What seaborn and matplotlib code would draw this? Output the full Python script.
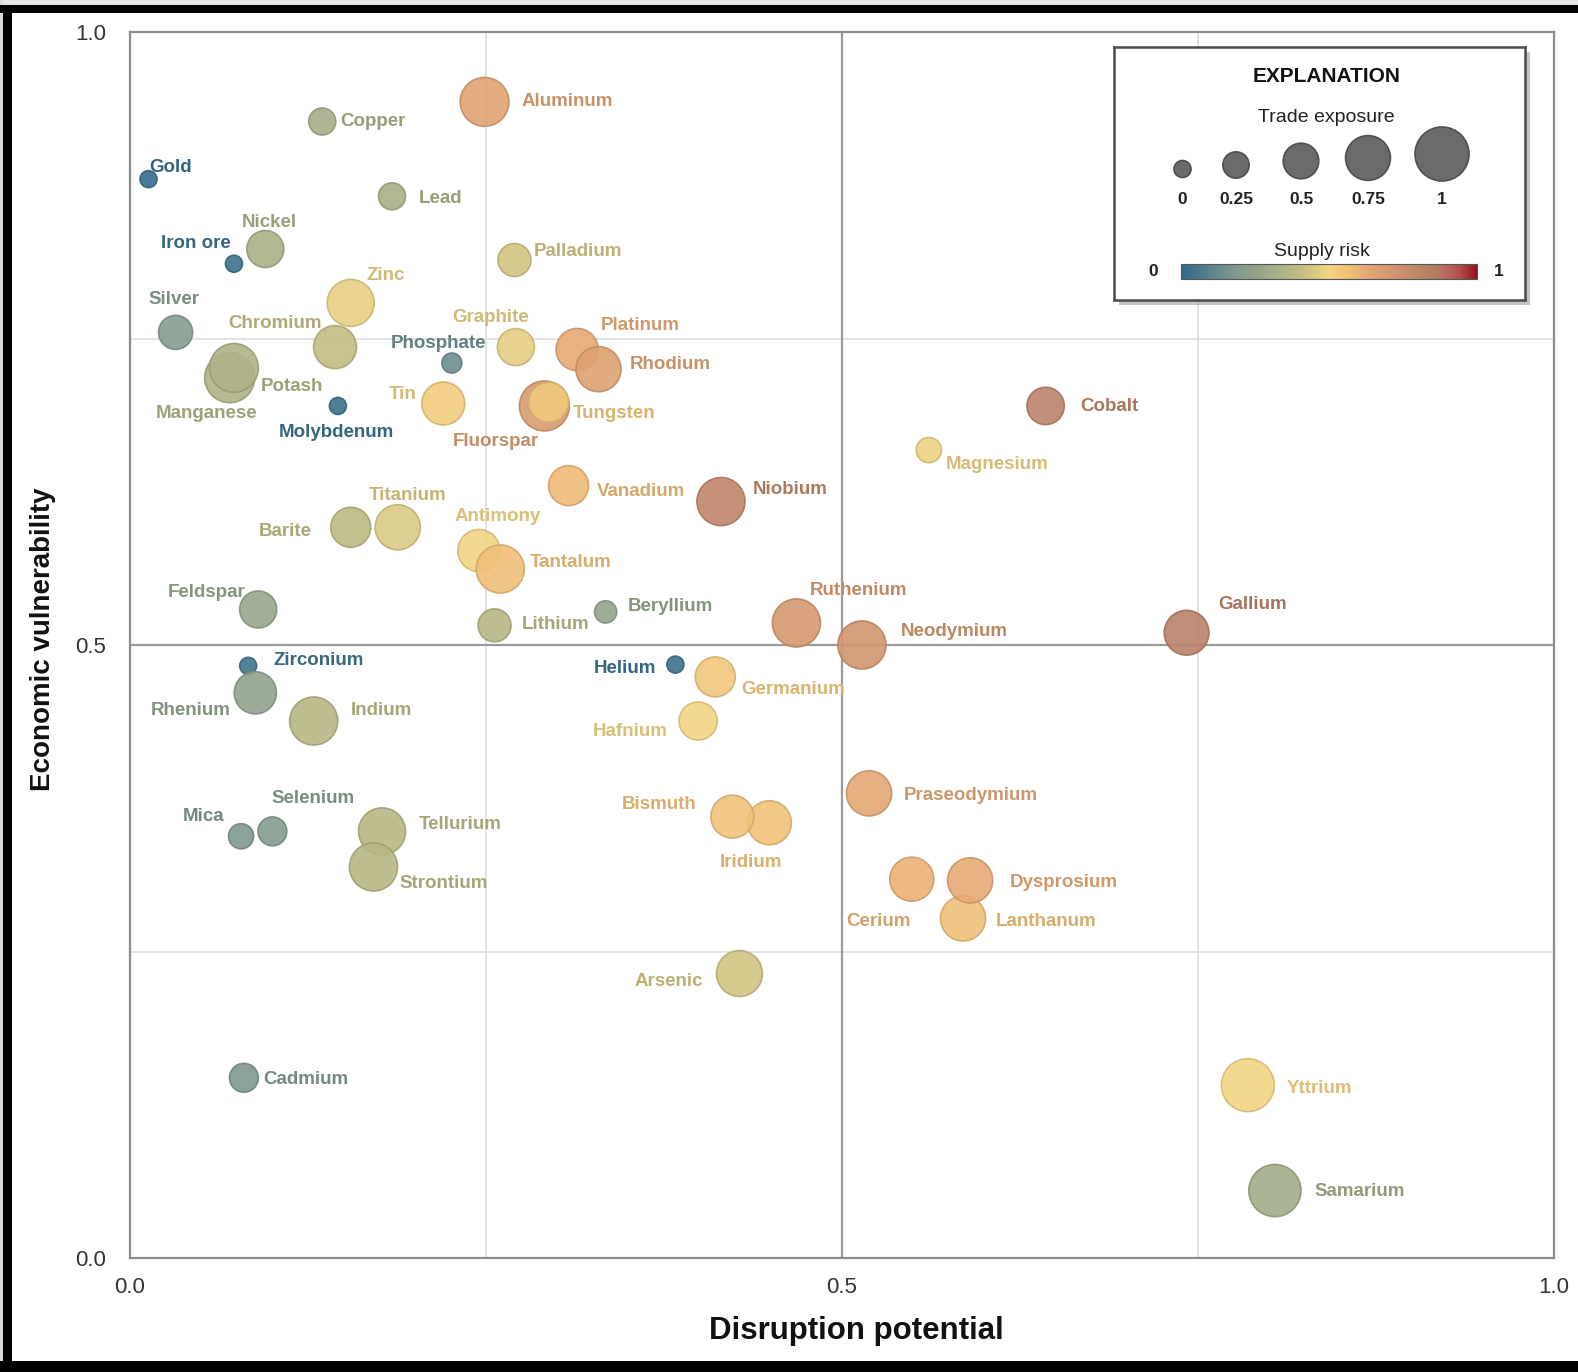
import numpy as np
import pandas as pd
import matplotlib
matplotlib.use("Agg")
import matplotlib.pyplot as plt
import seaborn as sns
from matplotlib.colors import LinearSegmentedColormap, to_rgb
from matplotlib.patches import Rectangle

# ---------------- data ----------------
names = ["Aluminum", "Copper", "Gold", "Lead", "Nickel", "Iron ore", "Palladium",
         "Zinc", "Silver", "Chromium", "Graphite", "Phosphate", "Platinum", "Rhodium",
         "Manganese", "Potash", "Molybdenum", "Tin", "Fluorspar", "Tungsten", "Cobalt",
         "Magnesium", "Vanadium", "Niobium", "Barite", "Titanium", "Antimony", "Tantalum",
         "Feldspar", "Beryllium", "Lithium", "Ruthenium", "Neodymium", "Gallium",
         "Zirconium", "Helium", "Germanium", "Rhenium", "Indium", "Hafnium",
         "Praseodymium", "Iridium", "Bismuth", "Selenium", "Mica", "Tellurium",
         "Strontium", "Cerium", "Lanthanum", "Dysprosium", "Arsenic", "Cadmium",
         "Yttrium", "Samarium"]
disruption = [0.249, 0.135, 0.013, 0.184, 0.095, 0.073, 0.270,
              0.155, 0.032, 0.144, 0.271, 0.226, 0.314, 0.329,
              0.070, 0.073, 0.146, 0.220, 0.291, 0.294, 0.643,
              0.561, 0.308, 0.415, 0.155, 0.188, 0.245, 0.260,
              0.090, 0.334, 0.256, 0.468, 0.514, 0.742,
              0.083, 0.383, 0.411, 0.088, 0.129, 0.399,
              0.519, 0.449, 0.423, 0.100, 0.078, 0.177,
              0.171, 0.549, 0.585, 0.590, 0.428, 0.080,
              0.785, 0.804]
vulnerability = [0.943, 0.927, 0.880, 0.866, 0.823, 0.811, 0.814,
                 0.779, 0.755, 0.743, 0.743, 0.730, 0.741, 0.725,
                 0.718, 0.726, 0.695, 0.697, 0.695, 0.698, 0.695,
                 0.659, 0.630, 0.617, 0.596, 0.596, 0.577, 0.562,
                 0.529, 0.527, 0.516, 0.518, 0.500, 0.510,
                 0.483, 0.484, 0.474, 0.461, 0.438, 0.438,
                 0.379, 0.355, 0.360, 0.348, 0.344, 0.348,
                 0.319, 0.309, 0.277, 0.308, 0.232, 0.147,
                 0.141, 0.055]
trade_exposure = [0.86, 0.27, 0.0, 0.27, 0.54, 0.0, 0.43,
                  0.81, 0.46, 0.70, 0.54, 0.08, 0.68, 0.76,
                  0.89, 0.86, 0.0, 0.70, 0.89, 0.62, 0.55,
                  0.22, 0.62, 0.84, 0.62, 0.76, 0.68, 0.84,
                  0.54, 0.14, 0.43, 0.84, 0.84, 0.75,
                  0.0, 0.0, 0.62, 0.68, 0.84, 0.57,
                  0.76, 0.73, 0.70, 0.32, 0.22, 0.81,
                  0.84, 0.73, 0.76, 0.76, 0.78, 0.32,
                  0.97, 0.95]
supply_risk = [0.65, 0.31, 0.02, 0.32, 0.33, 0.03, 0.43,
               0.48, 0.20, 0.40, 0.47, 0.14, 0.62, 0.66,
               0.34, 0.34, 0.03, 0.53, 0.69, 0.54, 0.82,
               0.49, 0.58, 0.80, 0.38, 0.45, 0.50, 0.57,
               0.26, 0.25, 0.37, 0.70, 0.72, 0.83,
               0.04, 0.03, 0.54, 0.24, 0.37, 0.50,
               0.63, 0.56, 0.56, 0.20, 0.18, 0.37,
               0.37, 0.60, 0.57, 0.62, 0.43, 0.18,
               0.50, 0.30]

axis_ticks = [0.0, 0.25, 0.5, 0.75, 1.0]
axis_tick_labels = ["0.0", "", "0.5", "", "1.0"]
legend_sizes = [0.0, 0.25, 0.5, 0.75, 1.0]
legend_size_labels = ["0", "0.25", "0.5", "0.75", "1"]

# ---------------- label layout (pixel offsets, not data) ----------------
label_layout = {
    "Aluminum": (37, 0, "left"), "Copper": (18, 0, "left"), "Gold": (1, -12, "left"),
    "Lead": (27, 2, "left"), "Nickel": (4, -27, "center"), "Iron ore": (-3, -20, "right"),
    "Palladium": (19, -9, "left"), "Zinc": (16, -27, "left"), "Silver": (-2, -33, "center"),
    "Chromium": (-13, -24, "right"), "Graphite": (-25, -30, "center"),
    "Phosphate": (-13, -20, "center"), "Platinum": (24, -24, "left"),
    "Rhodium": (31, -5, "left"), "Potash": (27, 19, "left"),
    "Manganese": (-23, 36, "center"), "Molybdenum": (-2, 27, "center"),
    "Tin": (-27, -9, "right"), "Fluorspar": (-49, 36, "center"),
    "Tungsten": (24, 11, "left"), "Cobalt": (35, 1, "left"),
    "Magnesium": (17, 14, "left"), "Vanadium": (28, 6, "left"),
    "Niobium": (32, -12, "left"), "Titanium": (10, -32, "center"),
    "Barite": (-39, 4, "right"), "Antimony": (19, -34, "center"),
    "Tantalum": (30, -6, "left"), "Feldspar": (-13, -17, "right"),
    "Beryllium": (22, -5, "left"), "Lithium": (27, -1, "left"),
    "Ruthenium": (13, -32, "left"), "Neodymium": (39, -13, "left"),
    "Gallium": (32, -28, "left"), "Zirconium": (25, -5, "left"),
    "Helium": (-19, 4, "right"), "Germanium": (26, 13, "left"),
    "Rhenium": (-25, 18, "right"), "Indium": (37, -11, "left"),
    "Hafnium": (-31, 10, "right"), "Praseodymium": (35, 2, "left"),
    "Bismuth": (-36, -12, "right"), "Iridium": (-18, 40, "center"),
    "Selenium": (-1, -33, "left"), "Mica": (-17, -20, "right"),
    "Tellurium": (37, -7, "left"), "Strontium": (26, 17, "left"),
    "Cerium": (-1, 42, "right"), "Dysprosium": (40, 2, "left"),
    "Lanthanum": (33, 3, "left"), "Arsenic": (-36, 8, "right"),
    "Cadmium": (19, 2, "left"), "Yttrium": (39, 3, "left"),
    "Samarium": (40, 1, "left"),
}

W, H, DPI = 1578, 1372, 100
sns.set_style("white")
plt.rcParams["font.family"] = ["Liberation Sans", "DejaVu Sans"]

cmap = LinearSegmentedColormap.from_list("risk", [
    (0.00, "#2f6a8a"), (0.18, "#7f9890"), (0.30, "#a3ad88"), (0.40, "#c2bc82"),
    (0.50, "#f3d583"), (0.57, "#f0bf78"), (0.62, "#e6aa76"), (0.68, "#da9d70"),
    (0.73, "#cf946e"), (0.80, "#bf866a"), (0.86, "#b67c66"), (0.94, "#b2504c"),
    (1.00, "#8e0e16")])


def diam_px(t):
    return 17 + 37 * t


def size_pt2(t):
    return (diam_px(t) * 72.0 / DPI) ** 2


def darker(c, f):
    r, g, b = to_rgb(c)
    return (r * f, g * f, b * f)


df = pd.DataFrame(dict(name=names, x=disruption, y=vulnerability,
                       trade=trade_exposure, risk=supply_risk))

fig = plt.figure(figsize=(W / DPI, H / DPI), dpi=DPI)
fig.patch.set_facecolor("white")

ax = fig.add_axes([130 / W, 1 - 1258 / H, 1424 / W, 1226 / H])
ax.set_zorder(0)

# grid lines
for v in (0.25, 0.75):
    ax.axvline(v, color="#dedede", lw=1.2, zorder=0)
    ax.axhline(v, color="#dedede", lw=1.2, zorder=0)
ax.axvline(0.5, color="#9a9a9a", lw=1.6, zorder=0)
ax.axhline(0.5, color="#9a9a9a", lw=1.6, zorder=0)

size_map = {t: size_pt2(t) for t in df["trade"].unique()}
sns.scatterplot(data=df, x="x", y="y", hue="risk", size="trade",
                palette=cmap, hue_norm=(0, 1), sizes=size_map, legend=False,
                ax=ax, alpha=0.9, linewidth=1.2, zorder=3)
coll = ax.collections[-1]
fcs = coll.get_facecolors()
coll.set_edgecolors([(r * 0.87, g * 0.87, b * 0.87, 0.85) for r, g, b, a in fcs])

for _, row in df.iterrows():
    dx, dy, ha = label_layout[row["name"]]
    ax.annotate(row["name"], (row["x"], row["y"]), xytext=(dx, -dy),
                textcoords="offset pixels", ha=ha, va="center",
                fontsize=13.5, fontweight="bold",
                color=darker(cmap(row["risk"]), 0.9), zorder=4)

ax.set_xlim(0, 1)
ax.set_ylim(0, 1)
ax.set_xticks(axis_ticks)
ax.set_xticklabels(axis_tick_labels)
ax.set_yticks(axis_ticks)
ax.set_yticklabels(axis_tick_labels)
ax.tick_params(axis="both", direction="out", length=6, width=1.3,
               color="#8c8c8c", labelsize=16, labelcolor="#333333")
ax.tick_params(axis="y", pad=11)
ax.tick_params(axis="x", pad=8)
for s in ax.spines.values():
    s.set_visible(True)
    s.set_color("#8c8c8c")
    s.set_linewidth(1.6)

ax.set_xlabel("Disruption potential", fontsize=22.5, fontweight="bold", color="#111111")
ax.set_ylabel("Economic vulnerability", fontsize=20, fontweight="bold", color="#111111")
ax.xaxis.set_label_coords(0.51, -0.047)
ax.yaxis.set_label_coords(-0.052, 0.505)

# ---------------- explanation box ----------------
bx0, by0, bw, bh = 1114, 47, 411, 253
ax.add_patch(Rectangle(((bx0 + 5) / W, 1 - (by0 + bh + 5) / H), bw / W, bh / H,
                       transform=fig.transFigure, facecolor="#8a8a8a", alpha=0.5,
                       edgecolor="none", zorder=10, clip_on=False))
lax = fig.add_axes([bx0 / W, 1 - (by0 + bh) / H, bw / W, bh / H])
lax.set_zorder(1)
lax.set_facecolor("white")
lax.set_xticks([])
lax.set_yticks([])
for s in lax.spines.values():
    s.set_color("#4a4a4a")
    s.set_linewidth(1.8)

lax.text(213, 29, "EXPLANATION", ha="center", va="center", fontsize=15,
         fontweight="bold", color="#111111")
lax.text(212, 71, "Trade exposure", ha="center", va="center", fontsize=14,
         color="#222222")
leg_x = [68.5, 122, 187, 254, 328]
leg_y = [122, 118, 114, 111, 107]
lax.scatter(leg_x, leg_y, s=[size_pt2(t) for t in legend_sizes],
            color="#6b6b6b", edgecolor="#4f4f4f", linewidth=1.2, zorder=3)
for xx, lab in zip(leg_x, legend_size_labels):
    lax.text(xx, 153, lab, ha="center", va="center", fontsize=12.5,
             fontweight="bold", color="#222222")
lax.text(208, 205, "Supply risk", ha="center", va="center", fontsize=14,
         color="#222222")
grad = np.linspace(0, 1, 256).reshape(1, -1)
lax.imshow(grad, extent=[66.5, 363, 232, 217], cmap=cmap, aspect="auto",
           interpolation="bilinear", zorder=2)
lax.add_patch(Rectangle((66.5, 217), 296.5, 15, fill=False,
                        edgecolor="#555555", lw=0.8, zorder=3))
lax.set_xlim(0, bw)
lax.set_ylim(bh, 0)
lax.text(39, 225, "0", ha="center", va="center", fontsize=12.5,
         fontweight="bold", color="#222222")
lax.text(384.5, 225, "1", ha="center", va="center", fontsize=12.5,
         fontweight="bold", color="#222222")

# ---------------- black screenshot frame ----------------
fig.add_artist(Rectangle((0, 1 - 5 / H), 1, 5 / H, transform=fig.transFigure,
                         facecolor="#e4e4e4", edgecolor="none", zorder=20))
fig.add_artist(Rectangle((0, 1 - 13 / H), 1, 8 / H, transform=fig.transFigure,
                         facecolor="black", edgecolor="none", zorder=21))
fig.add_artist(Rectangle((0, 0), 3 / W, 1, transform=fig.transFigure,
                         facecolor="#d8d8d8", edgecolor="none", zorder=20))
fig.add_artist(Rectangle((3 / W, 0), 9 / W, 1 - 5 / H, transform=fig.transFigure,
                         facecolor="black", edgecolor="none", zorder=21))
fig.add_artist(Rectangle((0, 0), 1, 11 / H, transform=fig.transFigure,
                         facecolor="black", edgecolor="none", zorder=21))

fig.savefig("out.png", dpi=DPI)
